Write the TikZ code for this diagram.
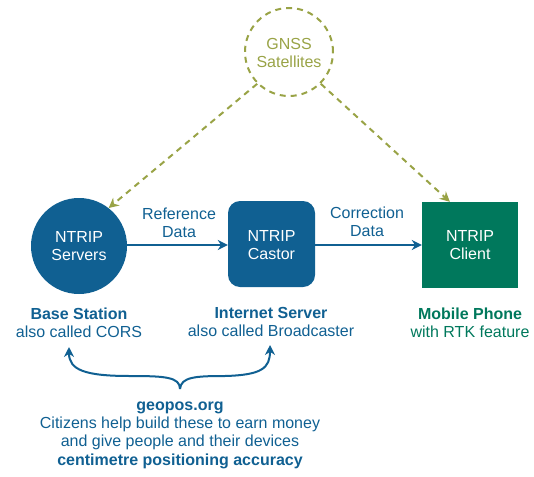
\documentclass[tikz,border=0pt]{standalone}
\usepackage{fontspec}
\setmainfont{Liberation Sans}
\usetikzlibrary{arrows.meta}
\definecolor{olive}{RGB}{153,163,70}
\definecolor{nblue}{RGB}{16,96,146}
\definecolor{ngreen}{RGB}{0,120,92}
\tikzset{
  lbl/.style={align=center,font=\fontsize{16}{18.3}\selectfont,inner sep=0pt},
  whitetxt/.style={lbl,text=white},
  sat/.style={draw=olive,line width=2pt,dash pattern=on 6pt off 5pt},
  satarrow/.style={draw=olive,line width=2pt,dash pattern=on 6pt off 5pt,-{Stealth[length=10pt,width=10pt]}},
  flow/.style={draw=nblue,line width=2pt,-{Stealth[length=10pt,width=10pt]}},
}
\begin{document}
\begin{tikzpicture}[x=1pt,y=-1pt]
\useasboundingbox (0,0) rectangle (534,476);
% GNSS
\node[sat,circle,minimum size=88pt,inner sep=0pt] (gnss) at (289,52) {};
\node[lbl,text=olive] (gnsst) at (289,53) {GNSS\\Satellites};
% Servers
\node[circle,fill=nblue,minimum size=96pt,inner sep=0pt] (srv) at (79,246) {};
\node[whitetxt] (srvt) at (79,246) {NTRIP\\Servers};
% Castor
\node[rounded corners=12pt,fill=nblue,minimum width=87pt,minimum height=86pt,inner sep=0pt] (cas) at (271.5,244) {};
\node[whitetxt] (cast) at (271.5,245) {NTRIP\\Castor};
% Client
\node[fill=ngreen,minimum width=96pt,minimum height=86pt,inner sep=0pt] (cli) at (470,245) {};
\node[whitetxt] (clit) at (470,245) {NTRIP\\Client};
% flows
\draw[flow] (srv.east |- 0,245) -- (cas.west |- 0,245);
\draw[flow] (cas.east |- 0,245) -- (cli.west |- 0,245);
\node[lbl,text=nblue] (ref) at (179,223) {Reference\\Data};
\node[lbl,text=nblue] (cor) at (367,222) {Correction\\Data};
% satellite arrows
\draw[satarrow] (gnss.225) -- (srv.52);
\draw[satarrow] (gnss.-45) -- (cli.115);
% labels below
\node[lbl,text=nblue] (bs) at (79,323) {\textbf{Base Station}\\also called CORS};
\node[lbl,text=nblue] (is) at (271,322) {\textbf{Internet Server}\\also called Broadcaster};
\node[lbl,text=ngreen] (mp) at (470,323) {\textbf{Mobile Phone}\\with RTK feature};
% brace
\coordinate (bb) at (180,389);
\coordinate (tl) at (69,347);
\coordinate (tr) at (270,345);
\draw[flow] (bb) .. controls (180,377) and (165,376) .. (130,376) .. controls (85,376) and (69,370) .. (tl);
\draw[flow] (bb) .. controls (181,377) and (195,376) .. (225,376) .. controls (262,375) and (270,368) .. (tr);
% bottom text
\node[lbl,text=nblue] (geo) at (180,435) {\textbf{geopos.org}\\Citizens help build these to earn money\\and give people and their devices\\\textbf{centimetre positioning accuracy}};
\end{tikzpicture}
\end{document}
